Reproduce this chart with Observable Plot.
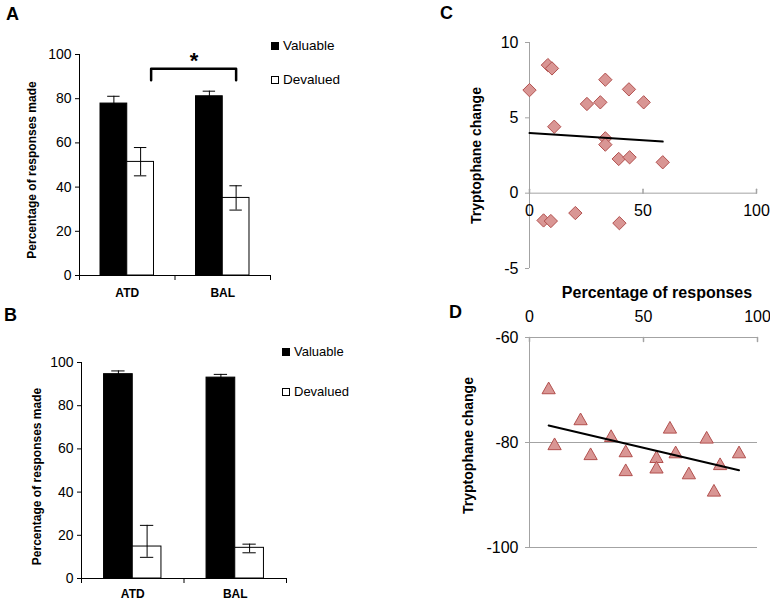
<!DOCTYPE html>
<html><head><meta charset="utf-8">
<script src="https://cdn.jsdelivr.net/npm/d3@7"></script>
<script src="https://cdn.jsdelivr.net/npm/@observablehq/plot@0.6"></script>
<style>
body{margin:0;background:#fff;font-family:"Liberation Sans",Arial,sans-serif;}
#fig{position:relative;width:770px;height:600px;overflow:hidden;background:#fff}
.panel{position:absolute}
.panel svg{overflow:visible}
.letter{position:absolute;font-weight:bold;font-size:18px;line-height:1}
.leg{position:absolute;display:flex;align-items:center;white-space:nowrap;height:16px;line-height:16px}
.sw{display:inline-block;border:1px solid #000;box-sizing:border-box;width:8px;height:8px;margin-right:4px}
</style></head><body><div id="fig"></div>
<script>
// ---------- data ----------
const groups = ["ATD", "BAL"];
const seriesNames = ["Valuable", "Devalued"];
const yTicksBar = [0, 20, 40, 60, 80, 100];
const groupTicks = [0, 1, 2];
const groupLabelTicks = [0.5, 1.5];

// Panel A
const aValuable = [77.8, 81.1];
const aValuableLo = [74.5, 78.8];
const aValuableHi = [81.1, 83.4];
const aDevalued = [51.4, 35.1];
const aDevaluedLo = [45.1, 29.6];
const aDevaluedHi = [57.9, 40.6];
const sigBracket = [{x: 0.75, y: 88.4}, {x: 0.75, y: 93.5}, {x: 1.64, y: 93.5}, {x: 1.64, y: 88.4}];
const sigStar = [{x: 1.2, y: 93.5, text: "*"}];

// Panel B
const bValuable = [94.6, 93.0];
const bValuableLo = [93.1, 91.5];
const bValuableHi = [96.1, 94.5];
const bDevalued = [14.8, 14.2];
const bDevaluedLo = [9.8, 11.9];
const bDevaluedHi = [24.6, 15.9];

// Panel C
const cPct = [0, 8.1, 9.9, 10.9, 25.3, 31.2, 33.4, 33.4, 33.4, 39.3, 44.1, 43.8, 50.3, 58.7, 6.2, 9.4, 20.2, 39.6];
const cTrp = [6.84, 8.5, 8.28, 4.41, 5.92, 6.03, 7.53, 3.64, 3.22, 2.27, 2.38, 6.89, 6.03, 2.05, -1.81, -1.85, -1.32, -1.99];
const cTicksX = [0, 50, 100];
const cTicksY = [-5, 0, 5, 10];

// Panel D
const dPct = [8.4, 11.0, 22.4, 26.8, 35.8, 42.2, 42.2, 55.7, 55.7, 61.6, 64.1, 69.9, 77.7, 80.9, 83.6, 91.9];
const dTrp = [-69.6, -80.25, -75.5, -82.15, -78.7, -81.6, -85.2, -82.7, -84.7, -77.1, -81.8, -85.8, -79.0, -89.1, -84.05, -81.8];
const dTicksX = [0, 50, 100];
const dTicksY = [-100, -80, -60];

// ---------- helpers ----------
const FONT = '"Liberation Sans", Arial, sans-serif';
const GRAY = "#a3a3a3";
const MFILL = "#d99694";
const MSTROKE = "#b2504e";
const GAP = 0.22, BW = 0.28, CAP = 0.065;
const fmt = d => String(d);
const fig = document.getElementById("fig");

function place(node, left, top) {
  const d = document.createElement("div");
  d.className = "panel";
  d.style.left = left + "px"; d.style.top = top + "px";
  d.appendChild(node); fig.appendChild(d);
}
function letter(t, left, top) {
  const d = document.createElement("div");
  d.className = "letter"; d.textContent = t;
  d.style.left = left + "px"; d.style.top = top + "px";
  fig.appendChild(d);
}
function legend(items, left, tops, size) {
  items.forEach((name, i) => {
    const d = document.createElement("div");
    d.className = "leg";
    d.style.left = left + "px"; d.style.top = tops[i] + "px"; d.style.fontSize = size + "px";
    const s = document.createElement("span");
    s.className = "sw"; s.style.background = name === "Valuable" ? "#000" : "#fff";
    d.appendChild(s);
    d.appendChild(document.createTextNode(name));
    fig.appendChild(d);
  });
}
function barRows(series) {
  const rows = [];
  groups.forEach((g, i) => series.forEach((s, j) => rows.push({
    group: g, series: s.name,
    x1: i + GAP + j * BW, x2: i + GAP + (j + 1) * BW, xc: i + GAP + (j + 0.5) * BW,
    value: s.values[i], lo: s.lo[i], hi: s.hi[i]
  })));
  return rows;
}
const tickShape = {draw(context, l) { context.moveTo(0, 0); context.lineTo(0, -l); }};
const triangleC = {draw(context, size) {
  const a = Math.sqrt(size), hw = a * 0.68, hh = a * 0.6;
  context.moveTo(0, -hh); context.lineTo(hw, hh); context.lineTo(-hw, hh); context.closePath();
}};

function barPanel({rows, margin, catPad, labelDx, labelDy, extra = []}) {
  const caps = rows.flatMap(r => [{y: r.lo, x1: r.xc - CAP, x2: r.xc + CAP}, {y: r.hi, x1: r.xc - CAP, x2: r.xc + CAP}]);
  return Plot.plot({
    width: 380, height: 300,
    marginLeft: margin[0], marginRight: margin[1], marginTop: margin[2], marginBottom: margin[3],
    style: {fontFamily: FONT, color: "#000", background: "transparent", overflow: "visible"},
    x: {type: "linear", domain: [0, 2], nice: false},
    y: {domain: [0, 100], nice: false},
    marks: [
      Plot.rect(rows.filter(r => r.series === "Valuable"), {x1: "x1", x2: "x2", y1: 0, y2: "value", fill: "#000", stroke: "#000"}),
      Plot.rect(rows.filter(r => r.series === "Devalued"), {x1: "x1", x2: "x2", y1: 0, y2: "value", fill: "#fff", stroke: "#000"}),
      Plot.ruleX(rows, {x: "xc", y1: "lo", y2: "hi", stroke: "#000"}),
      Plot.ruleY(caps, {y: "y", x1: "x1", x2: "x2", stroke: "#000"}),
      Plot.ruleY([0], {stroke: "#000"}),
      Plot.ruleX([0], {stroke: "#000"}),
      Plot.axisY({ticks: yTicksBar, tickSize: 4, tickPadding: 4, fontSize: 14, tickFormat: fmt, label: null}),
      Plot.axisX({ticks: groupTicks, tickSize: 5, tickFormat: () => "", label: null}),
      Plot.axisX({ticks: groupLabelTicks, tickSize: 0, tickPadding: catPad, tickFormat: d => groups[Math.floor(d)], fontSize: 12, fontWeight: "bold", label: null}),
      Plot.text(["Percentage of responses made"], {text: d => d, frameAnchor: "left", textAnchor: "middle", lineAnchor: "middle", rotate: -90, dx: labelDx, dy: labelDy, fontSize: 12, fontWeight: "bold"}),
      ...extra
    ]
  });
}

// ---------- Panel A ----------
const rowsA = barRows([
  {name: "Valuable", values: aValuable, lo: aValuableLo, hi: aValuableHi},
  {name: "Devalued", values: aDevalued, lo: aDevaluedLo, hi: aDevaluedHi}
]);
place(barPanel({
  rows: rowsA, margin: [79, 110, 54, 25], catPad: 13, labelDx: -47, labelDy: 5,
  extra: [
    Plot.line(sigBracket, {x: "x", y: "y", stroke: "#000", strokeWidth: 2.5}),
    Plot.text(sigStar, {x: "x", y: "y", text: "text", dy: -8, fontSize: 22, fontWeight: "bold"})
  ]
}), 0, 0);

// ---------- Panel B ----------
const rowsB = barRows([
  {name: "Valuable", values: bValuable, lo: bValuableLo, hi: bValuableHi},
  {name: "Devalued", values: bDevalued, lo: bDevaluedLo, hi: bDevaluedHi}
]);
place(barPanel({rows: rowsB, margin: [81, 94, 62, 22], catPad: 11, labelDx: -44, labelDy: 6}), 0, 300);

// ---------- Panel C ----------
const cData = cPct.map((p, i) => ({pct: p, trp: cTrp[i]}));
place(Plot.plot({
  width: 370, height: 300,
  marginLeft: 129, marginRight: 14, marginTop: 42, marginBottom: 32,
  style: {fontFamily: FONT, color: "#000", background: "transparent", overflow: "visible"},
  x: {domain: [0, 100], nice: false, axis: null},
  y: {domain: [-5, 10], nice: false},
  marks: [
    Plot.ruleX([0], {stroke: GRAY}),
    Plot.ruleY([0], {stroke: GRAY}),
    Plot.axisY({ticks: cTicksY, tickSize: 4, tickFormat: () => "", stroke: GRAY, label: null}),
    Plot.axisY({ticks: cTicksY, tickSize: 0, tickPadding: 11, fontSize: 16, tickFormat: fmt, label: null}),
    Plot.vector(cTicksX, {x: d => d, y: 0, length: 4, rotate: 0, anchor: "start", shape: tickShape, stroke: GRAY}),
    Plot.text(cTicksX, {x: d => d, y: 0, text: fmt, dy: 18, fontSize: 16}),
    Plot.dot(cData, {x: "pct", y: "trp", symbol: "diamond2", r: 6, fill: MFILL, stroke: MSTROKE, strokeWidth: 1}),
    Plot.linearRegressionY(cData, {x: "pct", y: "trp", stroke: "#000", strokeWidth: 2, ci: 0}),
    Plot.text(["Tryptophane change"], {text: d => d, frameAnchor: "left", textAnchor: "middle", lineAnchor: "middle", rotate: -90, dx: -53, fontSize: 14, fontWeight: "bold"}),
    Plot.text(["Percentage of responses"], {text: d => d, frameAnchor: "bottom", textAnchor: "middle", lineAnchor: "middle", dx: 14, dy: 24, fontSize: 16, fontWeight: "bold"})
  ]
}), 400, 0);

// ---------- Panel D ----------
const dData = dPct.map((p, i) => ({pct: p, trp: dTrp[i]}));
place(Plot.plot({
  width: 370, height: 300,
  marginLeft: 129, marginRight: 13, marginTop: 37, marginBottom: 53,
  style: {fontFamily: FONT, color: "#000", background: "transparent", overflow: "visible"},
  x: {domain: [0, 100], nice: false},
  y: {domain: [-100, -60], nice: false},
  marks: [
    Plot.ruleY(dTicksY, {stroke: GRAY}),
    Plot.ruleX([0], {stroke: GRAY}),
    Plot.axisY({ticks: dTicksY, tickSize: 4, tickFormat: () => "", stroke: GRAY, label: null}),
    Plot.axisY({ticks: dTicksY, tickSize: 0, tickPadding: 11, fontSize: 16, tickFormat: fmt, label: null}),
    Plot.axisX({anchor: "top", ticks: dTicksX, tickSize: 0, tickPadding: 16, fontSize: 16, tickFormat: fmt, label: null}),
    Plot.vector(dTicksX, {x: d => d, y: -60, length: 4, rotate: 180, anchor: "start", shape: tickShape, stroke: GRAY}),
    Plot.dot(dData, {x: "pct", y: "trp", symbol: triangleC, r: 5.5, fill: MFILL, stroke: MSTROKE, strokeWidth: 1}),
    Plot.linearRegressionY(dData, {x: "pct", y: "trp", stroke: "#000", strokeWidth: 2, ci: 0}),
    Plot.text(["Tryptophane change"], {text: d => d, frameAnchor: "left", textAnchor: "middle", lineAnchor: "middle", rotate: -90, dx: -61, dy: 3, fontSize: 14, fontWeight: "bold"})
  ]
}), 400, 300);

// ---------- letters & legends ----------
letter("A", 6, 4.5);
letter("B", 4, 305.5);
letter("C", 440, 4.3);
letter("D", 449, 302.5);
legend(seriesNames, 271, [38.3, 71.5], 13.5);
legend(seriesNames, 282, [344.3, 383.7], 13);
</script></body></html>
